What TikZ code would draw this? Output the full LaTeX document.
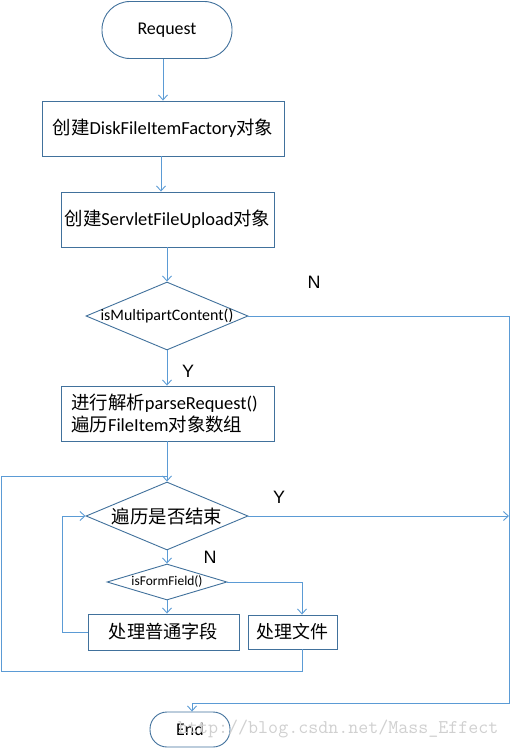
\documentclass[tikz,border=0pt]{standalone}
\usepackage{fontspec}
\setmainfont{Carlito}
\newfontfamily\cjk{Noto Sans CJK SC}
\newfontfamily\arialf{Liberation Sans}
\usetikzlibrary{shapes.geometric,arrows.meta}
\definecolor{boxc}{HTML}{41719C}
\definecolor{arrc}{HTML}{5B9BD5}
\definecolor{wmc}{HTML}{D0D0D0}
\tikzset{
  box/.style={draw=boxc, line width=0.9bp, rectangle, inner sep=0pt, fill=white},
  term/.style={box},
  dia/.style={draw=boxc, line width=0.9bp, diamond, inner sep=0pt, fill=white},
  conn/.style={draw=arrc, line width=0.9bp},
  arr/.style={conn, -{Straight Barb[length=5bp,width=9bp]}},
  lbl/.style={font=\arialf\fontsize{18}{20}\selectfont},
  txt/.style={font=\fontsize{18.5}{22}\selectfont},
}
\begin{document}
\begin{tikzpicture}[x=1bp,y=-1bp]
\useasboundingbox (0,0) rectangle (510,748);
% nodes
\node[term, minimum width=130bp, minimum height=57bp, rounded corners=28bp, font=\fontsize{18}{20}\selectfont] (req) at (167,30) {Request};
\node[box, txt, minimum width=242bp, minimum height=55bp] (b1) at (163,128.5) {{\cjk 创建}DiskFileItemFactory{\cjk 对象}};
\node[box, txt, minimum width=213bp, minimum height=55bp] (b2) at (167.5,219.5) {{\cjk 创建}ServletFileUpload{\cjk 对象}};
\node[dia, minimum width=162bp, minimum height=68bp] (d1) at (167,316) {};
\node[font=\fontsize{16}{18}\selectfont, inner sep=0pt] (d1t) at (d1) {isMultipartContent()};
\node[box, minimum width=213bp, minimum height=55bp] (b3) at (167.5,413.5) {};
\node[txt, align=left, anchor=west, inner sep=0pt] (b3t) at (71,413.5) {{\cjk 进行解析}parseRequest()\\{\cjk 遍历}FileItem{\cjk 对象数组}};
\node[dia, minimum width=162bp, minimum height=68bp] (d2) at (167,516) {};
\node[font=\cjk\fontsize{18.5}{20}\selectfont, inner sep=0pt] (d2t) at (d2) {遍历是否结束};
\node[dia, minimum width=120bp, minimum height=36bp] (d3) at (167,582) {};
\node[font=\fontsize{13.5}{15}\selectfont, inner sep=0pt] (d3t) at (d3) {isFormField()};
\node[box, minimum width=151bp, minimum height=36bp, font=\cjk\fontsize{18.3}{20}\selectfont] (b4) at (163.5,632) {处理普通字段};
\node[box, minimum width=89bp, minimum height=34bp, font=\cjk\fontsize{18}{20}\selectfont] (b5) at (292.5,632) {处理文件};
\node[term, minimum width=80bp, minimum height=35bp, rounded corners=17bp, font=\fontsize{18}{20}\selectfont] (end) at (190,729.5) {End};
% bend coordinates
\coordinate (r1) at (509,703);
\coordinate (l1) at (1,671);
\coordinate (l2) at (1,476);
\coordinate (l3) at (62,516);
% connectors
\draw[arr] (b1.north |- req.south) -- (b1.north);
\draw[arr] ([xshift=-2bp]b1.south) -- ([xshift=-2bp]b1.south |- b2.north);
\draw[arr] (b2.south -| d1.north) -- (d1.north);
\draw[arr] (d1.east) -| (r1) -| ([xshift=2bp]end.north);
\draw[arr] (d1.south) -- (d1.south |- b3.north);
\draw[arr] (b3.south -| d2.north) -- (d2.north);
\draw[conn] ([xshift=9.5bp]b5.south) |- (l1) -- (l2) -- (l2 -| d2.north);
\draw[arr] (d2.east) -- (d2.east -| r1);
\draw[arr] (d2.south) -- (d3.north);
\draw[arr] (d3.east) -| ([xshift=9.5bp]b5.north);
\draw[arr] (d3.south) -- (d3.south |- b4.north);
\draw[arr] (b4.west) -| (l3) -- (d2.west);
% labels
\node[lbl] (nl1) at (314,282) {N};
\node[lbl] (yl1) at (188,371) {Y};
\node[lbl] (yl2) at (279,497) {Y};
\node[lbl] (nl2) at (210,557) {N};
% watermark
\node[font=\ttfamily\fontsize{19.5}{20}\selectfont, text=wmc, anchor=west, inner sep=0pt] (wm) at (178,729) {http://blog.csdn.net/Mass\_Effect};
\end{tikzpicture}
\end{document}
